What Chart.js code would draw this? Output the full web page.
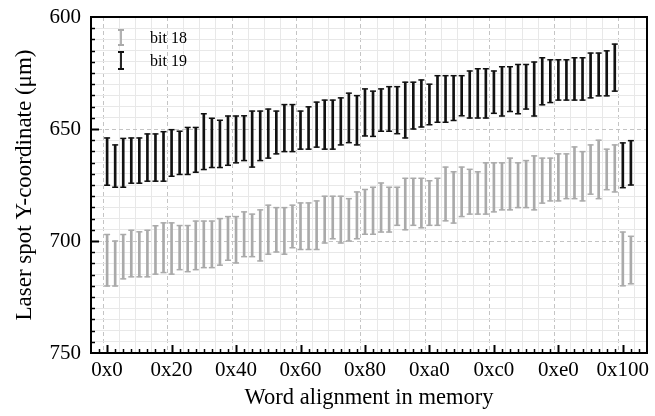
<!DOCTYPE html>
<html>
<head>
<meta charset="utf-8">
<script src="https://cdn.jsdelivr.net/npm/chart.js@4.4.1/dist/chart.umd.min.js"></script>
<style>
    html, body { margin: 0; padding: 0; background: #fff; }
    #wrap { width: 655px; height: 416px; position: relative; }
</style>
</head>
<body>
<div id="wrap"><canvas id="align-chart"></canvas></div>
<script>
// word alignment (bytes) of each measurement
var alignments = [0, 4, 8, 12, 16, 20, 24, 28, 32, 36, 40, 44, 48, 52, 56, 60,
    64, 68, 72, 76, 80, 84, 88, 92, 96, 100, 104, 108, 112, 116, 120, 124,
    128, 132, 136, 140, 144, 148, 152, 156, 160, 164, 168, 172, 176, 180, 184, 188,
    192, 196, 200, 204, 208, 212, 216, 220, 224, 228, 232, 236, 240, 244, 248, 252,
    256, 260];

// bit 18: upper / lower end of the error bar (um)
var bit18Top = [697.1, 700.0, 697.1, 695.2, 695.9, 695.2, 693.2, 691.9, 691.9, 693.1, 693.1, 691.1, 691.1, 691.1, 690.0, 689.1,
    689.1, 687.0, 688.0, 686.1, 684.0, 685.1, 685.1, 684.0, 683.0, 683.0, 682.1, 680.0, 680.0, 680.0, 681.1, 678.1,
    677.0, 676.0, 674.1, 676.0, 676.0, 672.0, 672.0, 672.0, 673.1, 672.0, 667.0, 669.1, 667.0, 668.0, 669.1, 665.1,
    665.1, 665.1, 663.0, 665.1, 664.1, 662.0, 663.0, 663.0, 661.1, 661.1, 658.0, 660.1, 657.1, 655.0, 659.0, 657.1,
    696.0, 697.9];
var bit18Bottom = [720.1, 720.1, 716.9, 716.0, 716.0, 716.0, 714.8, 714.1, 714.8, 712.8, 713.7, 712.8, 711.9, 711.9, 710.8, 708.6,
    709.8, 707.0, 707.0, 708.9, 705.9, 704.9, 705.9, 703.0, 703.8, 703.8, 703.8, 700.9, 699.0, 700.9, 700.0, 699.0,
    697.0, 697.0, 696.0, 696.0, 693.0, 695.0, 693.0, 694.1, 693.0, 693.0, 691.0, 692.0, 689.1, 688.0, 688.0, 688.0,
    687.0, 686.1, 686.1, 685.1, 685.1, 686.1, 683.1, 682.1, 682.1, 681.1, 681.1, 682.1, 679.1, 681.1, 677.1, 678.1,
    720.0, 719.1];

// bit 19
var bit19Top = [654.0, 657.1, 654.2, 654.0, 654.0, 652.2, 652.2, 651.2, 650.3, 651.0, 649.3, 649.3, 643.2, 645.2, 646.1, 644.2,
    644.2, 644.1, 642.0, 642.0, 641.1, 642.0, 639.1, 639.1, 642.0, 640.1, 638.0, 637.1, 637.1, 636.1, 634.0, 635.1,
    632.1, 633.1, 632.1, 631.1, 631.1, 629.1, 629.1, 628.1, 630.0, 626.2, 626.2, 626.2, 626.2, 624.1, 623.1, 623.1,
    624.1, 622.2, 622.2, 621.2, 621.2, 620.1, 618.2, 619.1, 619.1, 619.1, 618.2, 618.2, 616.1, 616.1, 615.1, 612.1,
    656.2, 655.2];
var bit19Bottom = [675.1, 676.0, 676.0, 674.2, 674.2, 673.3, 673.3, 673.3, 671.1, 670.3, 670.3, 669.3, 668.1, 667.2, 667.2, 666.2,
    665.1, 664.1, 667.0, 664.1, 663.0, 661.1, 660.1, 660.1, 659.0, 659.0, 658.1, 659.0, 659.0, 657.1, 656.1, 657.1,
    653.1, 653.3, 651.0, 651.0, 652.1, 654.0, 650.0, 649.1, 648.1, 647.0, 647.0, 646.2, 644.1, 645.1, 645.1, 645.1,
    643.0, 644.2, 642.2, 643.2, 641.1, 644.2, 639.2, 638.2, 637.1, 637.1, 637.1, 637.1, 636.1, 635.2, 635.2, 633.1,
    676.2, 675.0];

var xTickValues = [0, 32, 64, 96, 128, 160, 192, 224, 256];
var xTickLabels = ['0x0', '0x20', '0x40', '0x60', '0x80', '0xa0', '0xc0', '0xe0', '0x100'];
var yTickLabels = [600, 650, 700, 750];

var seriesNames = ['bit 18', 'bit 19'];
var seriesColors = ['#aaaaaa', '#111111'];

var serif = "'Liberation Serif', 'DejaVu Serif', serif";

function toBars(top, bottom) {
    var out = [];
    for (let i = 0; i < alignments.length; i++) {
        out.push({ x: alignments[i], y: [top[i], bottom[i]] });
    }
    return out;
}

function toCaps(top, bottom) {
    var out = [];
    for (let i = 0; i < alignments.length; i++) {
        out.push({ x: alignments[i], y: top[i] });
        out.push({ x: alignments[i], y: bottom[i] });
    }
    return out;
}

function barSet(label, color, top, bottom) {
    return {
        type: 'bar',
        label: label,
        data: toBars(top, bottom),
        backgroundColor: color,
        borderWidth: 0,
        barThickness: 2,
        grouped: false
    };
}

function capSet(label, color, top, bottom) {
    return {
        type: 'scatter',
        label: label + ' caps',
        data: toCaps(top, bottom),
        pointStyle: 'line',
        radius: 3,
        borderColor: color,
        borderWidth: 1.5,
        showLine: false
    };
}

// inward ticks, frame and in-plot legend
const framePlugin = {
    id: 'framePlugin',
    afterDraw(chart) {
        const ctx = chart.ctx;
        const area = chart.chartArea;
        const xs = chart.scales.x;
        const ys = chart.scales.y;
        ctx.save();
        ctx.strokeStyle = '#000';
        xs.ticks.forEach(t => {
            if (t.value <= xs.min || t.value >= xs.max) return;
            const px = Math.round(xs.getPixelForValue(t.value)) + 0.5;
            const major = t.value % 32 === 0;
            ctx.lineWidth = major ? 2 : 1.5;
            ctx.beginPath();
            ctx.moveTo(px, area.bottom);
            ctx.lineTo(px, area.bottom - (major ? 8 : 4));
            ctx.stroke();
        });
        ys.ticks.forEach(t => {
            if (t.value <= ys.min || t.value >= ys.max) return;
            const py = Math.round(ys.getPixelForValue(t.value)) + 0.5;
            const major = t.value % 50 === 0;
            ctx.lineWidth = major ? 2 : 1.5;
            ctx.beginPath();
            ctx.moveTo(area.left, py);
            ctx.lineTo(area.left + (major ? 8 : 4), py);
            ctx.stroke();
        });
        ctx.lineWidth = 2;
        ctx.strokeRect(area.left, area.top, area.right - area.left, area.bottom - area.top);

        // legend
        const rows = [[30, 45], [52, 69]];
        ctx.font = '16px ' + serif;
        ctx.textBaseline = 'middle';
        ctx.textAlign = 'left';
        for (let i = 0; i < seriesNames.length; i++) {
            const lx = area.left + 30;
            const y0 = rows[i][0], y1 = rows[i][1];
            ctx.strokeStyle = seriesColors[i];
            ctx.lineWidth = 1.8;
            ctx.beginPath();
            ctx.moveTo(lx, y0); ctx.lineTo(lx, y1);
            ctx.moveTo(lx - 3, y0); ctx.lineTo(lx + 3, y0);
            ctx.moveTo(lx - 3, y1); ctx.lineTo(lx + 3, y1);
            ctx.stroke();
            ctx.fillStyle = '#000';
            ctx.fillText(seriesNames[i], area.left + 59, (y0 + y1) / 2 + 1);
        }
        ctx.restore();
    }
};

function makeAlignChart() {
    var ctx = document.getElementById('align-chart').getContext('2d');
    window.alignChart = new Chart(ctx, {
        type: 'bar',
        data: {
            datasets: [
                barSet(seriesNames[0], seriesColors[0], bit18Top, bit18Bottom),
                capSet(seriesNames[0], seriesColors[0], bit18Top, bit18Bottom),
                barSet(seriesNames[1], seriesColors[1], bit19Top, bit19Bottom),
                capSet(seriesNames[1], seriesColors[1], bit19Top, bit19Bottom)
            ]
        },
        options: {
            responsive: true,
            maintainAspectRatio: false,
            animation: false,
            events: [],
            layout: {
                padding: { left: 0, right: 8, top: 17, bottom: 0 }
            },
            scales: {
                x: {
                    type: 'linear',
                    min: -8,
                    max: 268,
                    offset: false,
                    afterFit(scale) {
                        scale.height = 63;
                        scale.paddingLeft = 0;
                        scale.paddingRight = 0;
                    },
                    ticks: {
                        stepSize: 4,
                        autoSkip: false,
                        maxRotation: 0,
                        padding: 5,
                        color: '#000',
                        font: { family: serif, size: 21 },
                        callback(value) {
                            const k = xTickValues.indexOf(value);
                            return k >= 0 ? xTickLabels[k] : '';
                        }
                    },
                    grid: {
                        drawTicks: false,
                        lineWidth: 1,
                        color(c) {
                            const v = c.tick ? c.tick.value : 0;
                            if (v % 32 === 0) return '#c4c4c4';
                            if (v % 8 === 0) return '#e8e8e8';
                            return 'rgba(0,0,0,0)';
                        }
                    },
                    border: {
                        display: false,
                        dash(c) {
                            const v = c.tick ? c.tick.value : 0;
                            return v % 32 === 0 ? [4, 3] : [];
                        }
                    },
                    title: {
                        display: true,
                        text: 'Word alignment in memory',
                        color: '#000',
                        font: { family: serif, size: 22.5 },
                        padding: { top: 0, bottom: 4 }
                    }
                },
                y: {
                    type: 'linear',
                    min: 600,
                    max: 750,
                    reverse: true,
                    afterFit(scale) {
                        scale.width = 91;
                        scale.paddingTop = 0;
                        scale.paddingBottom = 0;
                    },
                    ticks: {
                        stepSize: 5,
                        autoSkip: false,
                        padding: 10,
                        color: '#000',
                        font: { family: serif, size: 21 },
                        callback(value) {
                            return yTickLabels.indexOf(value) >= 0 ? String(value) : '';
                        }
                    },
                    grid: {
                        drawTicks: false,
                        lineWidth: 1,
                        color(c) {
                            const v = c.tick ? c.tick.value : 0;
                            return v % 50 === 0 ? '#c4c4c4' : '#e8e8e8';
                        }
                    },
                    border: {
                        display: false,
                        dash(c) {
                            const v = c.tick ? c.tick.value : 0;
                            return v % 50 === 0 ? [4, 3] : [];
                        }
                    },
                    title: {
                        display: true,
                        text: 'Laser spot Y-coordinate (μm)',
                        color: '#000',
                        font: { family: serif, size: 23 },
                        padding: { top: 11, bottom: 0 }
                    }
                }
            },
            plugins: {
                legend: { display: false },
                tooltip: { enabled: false }
            }
        },
        plugins: [framePlugin]
    });
}

makeAlignChart();
</script>
</body>
</html>
